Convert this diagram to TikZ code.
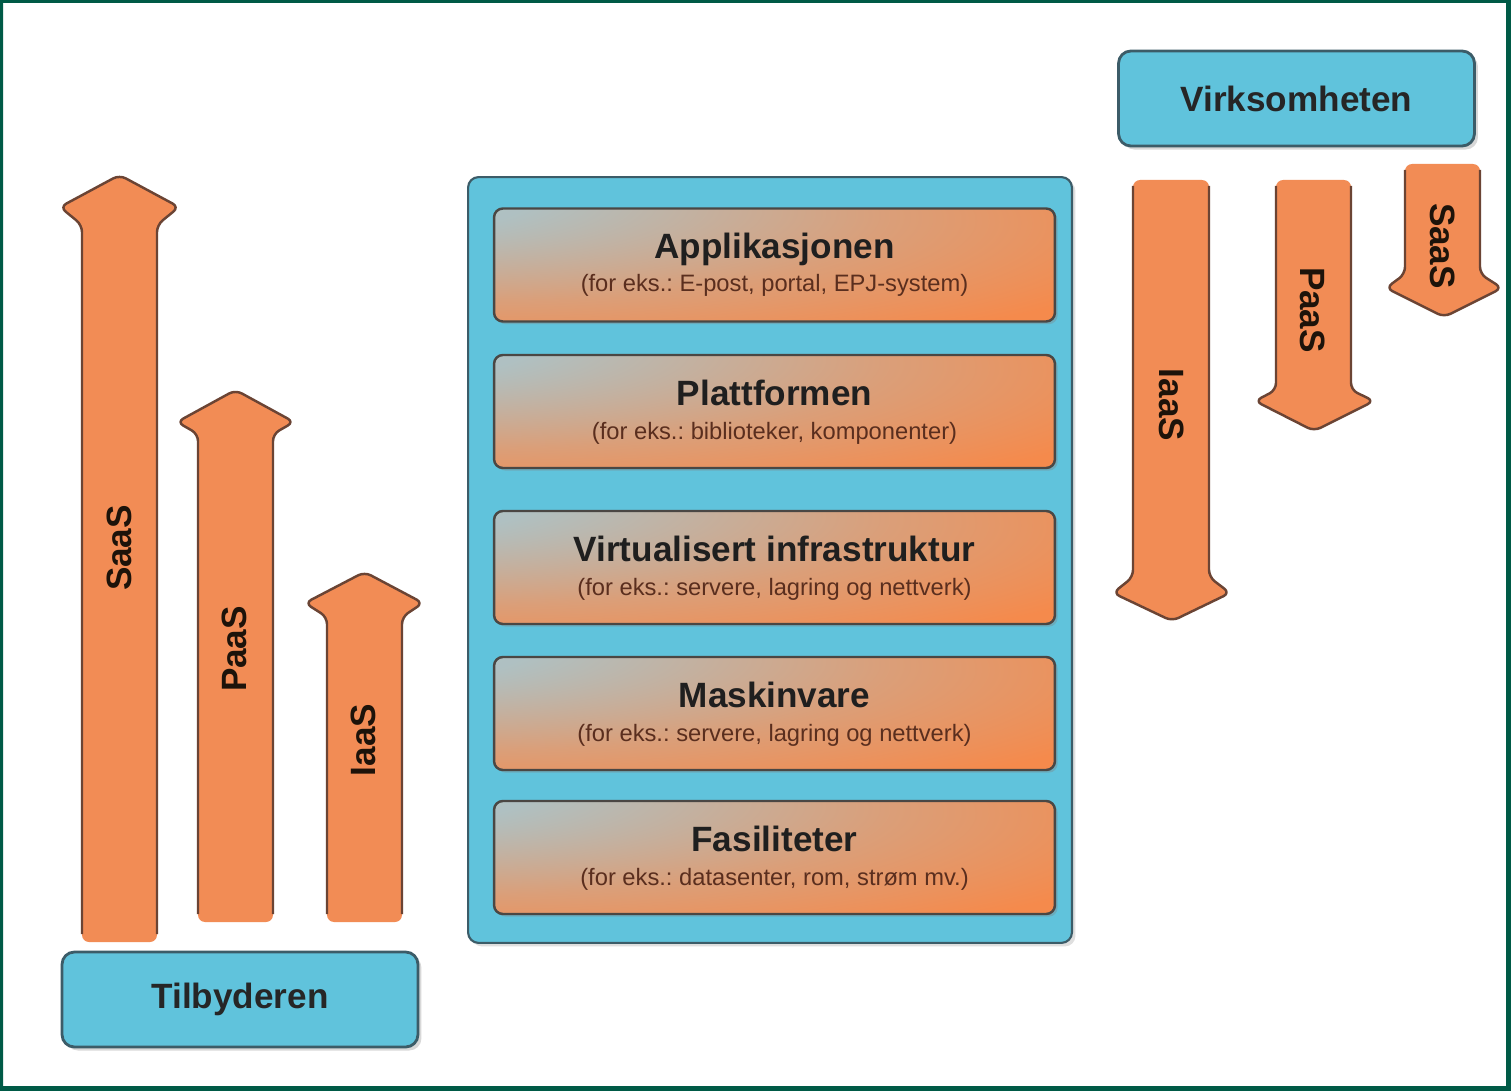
\documentclass[tikz,border=0pt]{standalone}
\usepackage{fontspec}
\setmainfont{Liberation Sans}
\frenchspacing
\usetikzlibrary{shadows}
\definecolor{ramme}{HTML}{005A46}
\definecolor{oransje}{HTML}{F28C55}
\definecolor{oransjekant}{HTML}{6B4434}
\definecolor{himmel}{HTML}{60C3DC}
\definecolor{blaakant}{HTML}{3C5C68}
\definecolor{graablaa}{HTML}{A9C5CC}
\definecolor{lagoransje}{HTML}{F58A4C}
\definecolor{lagkant}{HTML}{4A4744}
\definecolor{brunskrift}{HTML}{5A2E1E}
\pgfdeclareradialshading{lagtone}{\pgfpoint{-45bp}{35bp}}{color(0bp)=(graablaa);color(16bp)=(graablaa!92!lagoransje);color(38bp)=(lagoransje!65!graablaa);color(56bp)=(lagoransje);color(100bp)=(lagoransje)}
\begin{document}
\begin{tikzpicture}[x=0.02cm,y=-0.02cm,
  aktoer/.style={draw=blaakant,line width=1.6pt,fill=himmel,rounded corners=7pt,
    minimum width=7.12cm,minimum height=1.9cm,
    drop shadow={opacity=0.3,shadow xshift=2pt,shadow yshift=-2pt}},
  beholder/.style={draw=blaakant,line width=1.2pt,fill=himmel,rounded corners=6pt,
    minimum width=12.08cm,minimum height=15.32cm,
    drop shadow={opacity=0.25,shadow xshift=2pt,shadow yshift=-2pt}},
  lag/.style={draw=lagkant,line width=1.4pt,rounded corners=5pt,shading=lagtone,
    minimum width=11.22cm,minimum height=2.26cm,
    drop shadow={opacity=0.35,shadow xshift=1.5pt,shadow yshift=-1.5pt}},
  navn/.style={font=\bfseries\fontsize{20}{24}\selectfont,text=black!85},
  tittel/.style={anchor=base,font=\bfseries\fontsize{20}{24}\selectfont,text=black!88},
  undertekst/.style={anchor=base,font=\fontsize{13.5}{16}\selectfont,text=brunskrift},
  pilfyll/.style={fill=oransje,rounded corners=4pt},
  pilkant/.style={draw=oransjekant,line width=1.4pt,line join=round,rounded corners=4pt},
  piltekst/.style={font=\bfseries\fontsize{20}{24}\selectfont,text=black!85!brown}]
\useasboundingbox (0,0) rectangle (1511,1091);
\fill[white] (0,0) rectangle (1511,1091);
\fill[ramme,even odd rule] (0,0) rectangle (1511,1091) (3,3) rectangle (1506,1086);

\fill[pilfyll] (82,942) -- (82,225) -- (60,207) -- (119.5,175) -- (179,207) -- (157,225) -- (157,942) -- cycle;
\draw[pilkant] (82,934) -- (82,225) -- (60,207) -- (119.5,175) -- (179,207) -- (157,225) -- (157,934);
\fill[pilfyll] (198,922) -- (198,434) -- (177,422) -- (235.5,390) -- (294,422) -- (273,434) -- (273,922) -- cycle;
\draw[pilkant] (198,914) -- (198,434) -- (177,422) -- (235.5,390) -- (294,422) -- (273,434) -- (273,914);
\fill[pilfyll] (327,922) -- (327,617) -- (305,603) -- (364.5,572) -- (423,603) -- (402,617) -- (402,922) -- cycle;
\draw[pilkant] (327,914) -- (327,617) -- (305,603) -- (364.5,572) -- (423,603) -- (402,617) -- (402,914);

\fill[pilfyll] (1133,180) -- (1133,577) -- (1113,593) -- (1172,621) -- (1230,593) -- (1209,577) -- (1209,180) -- cycle;
\draw[pilkant] (1133,186) -- (1133,577) -- (1113,593) -- (1172,621) -- (1230,593) -- (1209,577) -- (1209,186);
\fill[pilfyll] (1276,180) -- (1276,390) -- (1255,401) -- (1314,431) -- (1374,401) -- (1351,390) -- (1351,180) -- cycle;
\draw[pilkant] (1276,186) -- (1276,390) -- (1255,401) -- (1314,431) -- (1374,401) -- (1351,390) -- (1351,186);
\fill[pilfyll] (1405,164) -- (1405,274) -- (1386,288) -- (1444,317) -- (1502,288) -- (1480,274) -- (1480,164) -- cycle;
\draw[pilkant] (1405,170) -- (1405,274) -- (1386,288) -- (1444,317) -- (1502,288) -- (1480,274) -- (1480,170);

\node[piltekst,rotate=90] (saas-opp) at (119,548) {SaaS};
\node[piltekst,rotate=90] (paas-opp) at (234,649) {PaaS};
\node[piltekst,rotate=90] (iaas-opp) at (363,740) {IaaS};
\node[piltekst,rotate=-90] (iaas-ned) at (1172,405) {IaaS};
\node[piltekst,rotate=-90] (paas-ned) at (1313,310) {PaaS};
\node[piltekst,rotate=-90] (saas-ned) at (1443,246) {SaaS};

\node[aktoer,navn] (tilbyder) at (240,999.5) {Tilbyderen};
\node[aktoer,navn] (virksomhet) at (1296.5,98.5) {Virksomheten};

\node[beholder] (stabel) at (770,560) {};
\node[lag] (app) at (774.5,265) {};
\node[lag] (plattform) at (774.5,411.5) {};
\node[lag] (virtuell) at (774.5,567.5) {};
\node[lag] (maskin) at (774.5,713.5) {};
\node[lag] (fasilitet) at (774.5,857.5) {};

\node[tittel] (app-t) at (774.5,258) {Applikasjonen};
\node[undertekst] (app-u) at (774.5,292) {(for eks.: E-post, portal, EPJ-system)};
\node[tittel] (plattform-t) at (774.5,405) {Plattformen};
\node[undertekst] (plattform-u) at (774.5,439) {(for eks.: biblioteker, komponenter)};
\node[tittel] (virtuell-t) at (774.5,561) {Virtualisert infrastruktur};
\node[undertekst] (virtuell-u) at (774.5,595) {(for eks.: servere, lagring og nettverk)};
\node[tittel] (maskin-t) at (774.5,707) {Maskinvare};
\node[undertekst] (maskin-u) at (774.5,741) {(for eks.: servere, lagring og nettverk)};
\node[tittel] (fasilitet-t) at (774.5,851) {Fasiliteter};
\node[undertekst] (fasilitet-u) at (774.5,885) {(for eks.: datasenter, rom, strøm mv.)};
\end{tikzpicture}
\end{document}
